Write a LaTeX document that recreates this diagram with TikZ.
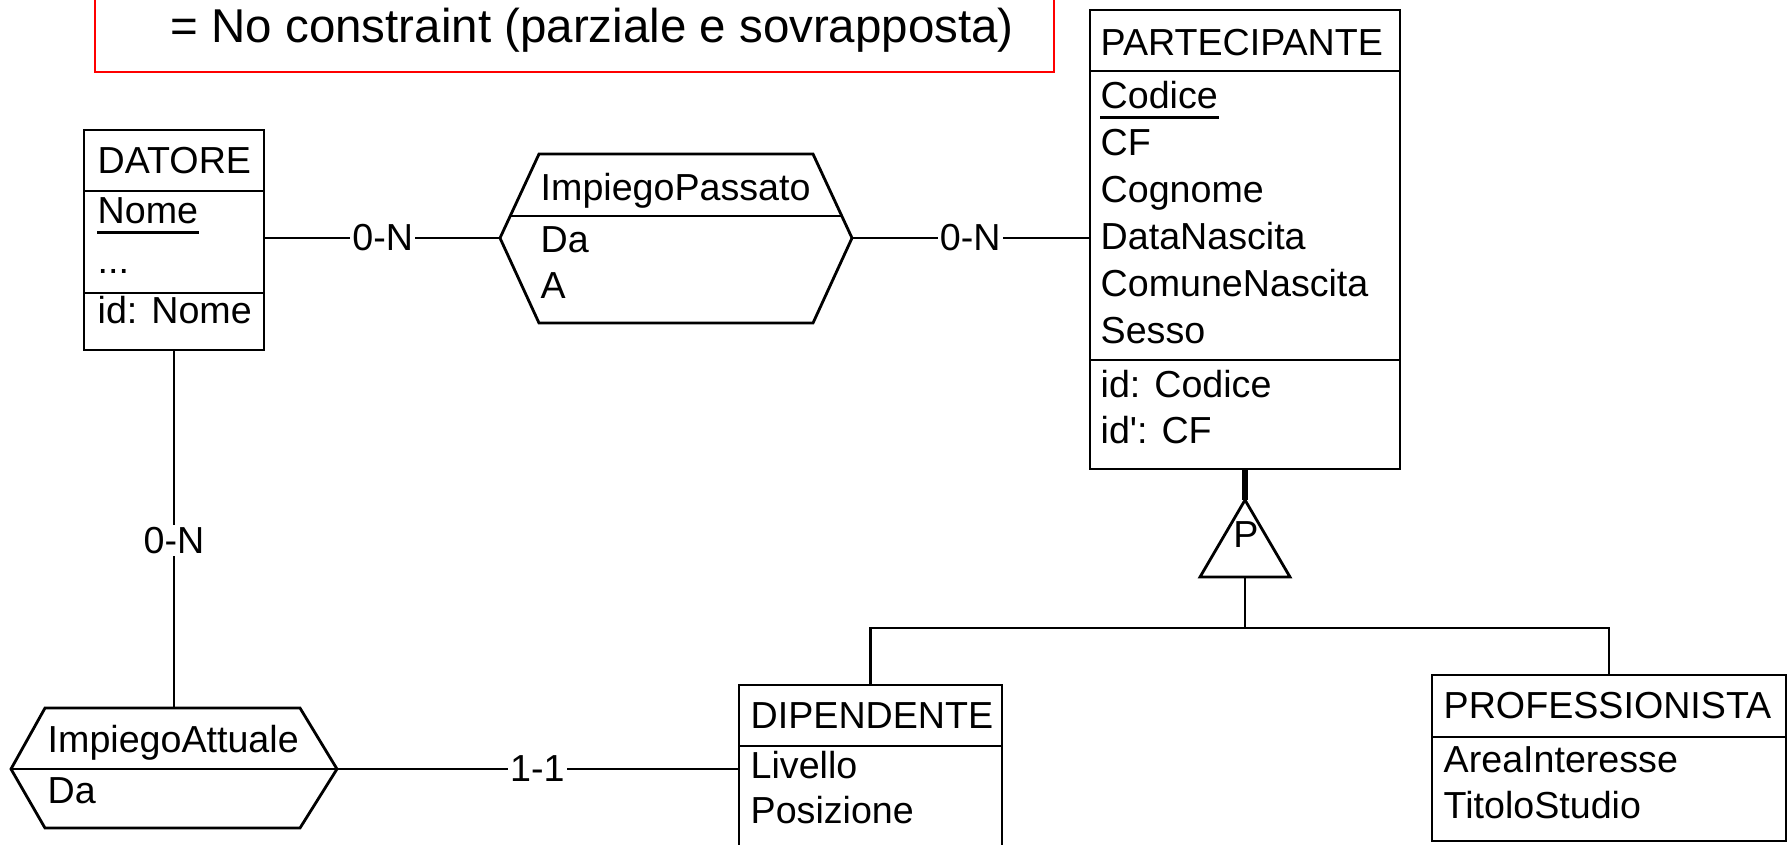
\documentclass[tikz,border=0pt]{standalone}
\usepackage{fontspec}
\setmainfont{Liberation Sans}
\usetikzlibrary{positioning, fit, calc}
\tikzset{
    entity/.style={
        rectangle,
        draw=black,
        line width=0.8pt,
        inner sep=0pt
    },
    attr/.style={
        anchor=base west,
        inner sep=0pt,
        font=\fontsize{10.7}{13.4}\selectfont
    },
    link/.style={
        draw=black,
        line width=0.8pt
    },
    isaline/.style={
        draw=black,
        line width=1.8pt
    },
    card/.style={
        fill=white,
        inner sep=0.6pt,
        font=\fontsize{10.7}{13.4}\selectfont
    },
    note/.style={
        rectangle,
        draw=red,
        line width=0.7pt,
        inner sep=0pt
    },
    notetext/.style={
        anchor=base west,
        inner sep=0pt,
        font=\fontsize{13.5}{16}\selectfont
    }
}

\begin{document}
\begin{tikzpicture}[x=0.01cm, y=-0.01cm]
\useasboundingbox (0,0) rectangle (1791,844);

% Note (top edge cut off)
\node[note, fit={(95,-40) (1054,72)}] (note) {};
\node[notetext] (note_text) at (170,42) {= No constraint (parziale e sovrapposta)};

% DATORE
\node[entity, fit={(84,130) (264,350)}] (datore) {};
\draw[link] (84,191) -- (264,191);
\draw[link] (84,293) -- (264,293);
\node[attr] (datore_title) at (97,173) {DATORE};
\node[attr] (datore_a1) at (97,223) {Nome};
\node[attr] (datore_a2) at (97,273) {...};
\node[attr] (datore_id) at (97,323) {id: Nome};
\draw[link] ([yshift=-2.8pt]datore_a1.base west) -- ([yshift=-2.8pt]datore_a1.base east);

% PARTECIPANTE
\node[entity, fit={(1090,10) (1400,469)}] (partecipante) {};
\draw[link] (1090,71) -- (1400,71);
\draw[link] (1090,360) -- (1400,360);
\node[attr] (part_title) at (1100,55) {PARTECIPANTE};
\foreach \a [count=\i] in {Codice, CF, Cognome, DataNascita, ComuneNascita, Sesso}
    \node[attr] (part_a\i) at (1100,{61+47*\i}) {\a};
\node[attr] (part_id1) at (1100,397) {id: Codice};
\node[attr] (part_id2) at (1100,443) {id\textquotesingle: CF};
\draw[link] ([yshift=-2.8pt]part_a1.base west) -- ([yshift=-2.8pt]part_a1.base east);

% ImpiegoPassato
\coordinate (ip_w) at (500,238);
\coordinate (ip_e) at (852,238);
\draw[link] (ip_w) -- (539,154) -- (813,154) -- (ip_e) -- (813,323) -- (539,323) -- cycle;
\draw[link] (510,216) -- (842,216);
\node[attr] (ip_title) at (540,200) {ImpiegoPassato};
\node[attr] (ip_a1) at (540,252) {Da};
\node[attr] (ip_a2) at (540,298) {A};

% ImpiegoAttuale
\coordinate (ia_w) at (11,769);
\coordinate (ia_e) at (337,769);
\coordinate (ia_n) at (174,708);
\draw[link] (ia_w) -- (45,708) -- (300,708) -- (ia_e) -- (300,828) -- (45,828) -- cycle;
\draw[link] (ia_w) -- (ia_e);
\node[attr] (ia_title) at (47,752) {ImpiegoAttuale};
\node[attr] (ia_a1) at (47,803) {Da};

% DIPENDENTE
\node[entity, fit={(739,685) (1002,900)}] (dipendente) {};
\draw[link] (739,746) -- (1002,746);
\node[attr] (dip_title) at (750,728) {DIPENDENTE};
\node[attr] (dip_a1) at (750,778) {Livello};
\node[attr] (dip_a2) at (750,823) {Posizione};

% PROFESSIONISTA
\node[entity, fit={(1432,675) (1786,841)}] (professionista) {};
\draw[link] (1432,737) -- (1786,737);
\node[attr] (prof_title) at (1443,718) {PROFESSIONISTA};
\node[attr] (prof_a1) at (1443,772) {AreaInteresse};
\node[attr] (prof_a2) at (1443,818) {TitoloStudio};

% Generalization (partial, overlapping)
\coordinate (isa_top) at (1245,500);
\coordinate (isa_base) at (1245,577);
\coordinate (isa_join) at (1245,628);
\draw[link] (isa_top) -- (1290,577) -- (1200,577) -- cycle;
\node[anchor=base, inner sep=0pt, font=\fontsize{10.7}{13.4}\selectfont] (isa_label) at (1246,547) {P};
\draw[isaline] (partecipante.south) -- (isa_top);
\draw[link] (isa_base) -- (isa_join);
\draw[link] (dipendente.north) |- (isa_join) -| (professionista.north);

% Relationships
\draw[link] (datore.east |- ip_w) -- node[card] {0-N} (ip_w);
\draw[link] (ip_e) -- node[card] {0-N} (ip_e -| partecipante.west);
\draw[link] (datore.south) -- node[card, pos=0.53] {0-N} (ia_n);
\draw[link] (ia_e) -- node[card] {1-1} (ia_e -| dipendente.west);

\end{tikzpicture}
\end{document}
